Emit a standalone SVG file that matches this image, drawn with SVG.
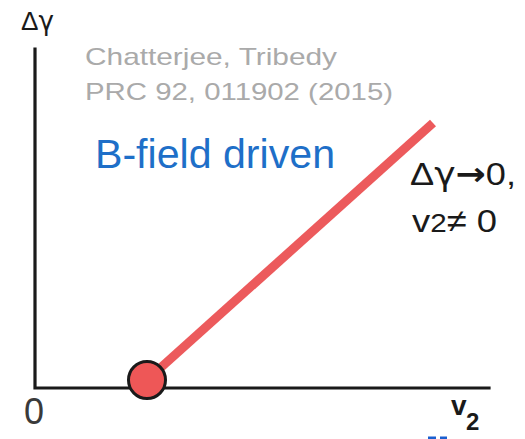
<svg xmlns="http://www.w3.org/2000/svg" width="525" height="439" viewBox="0 0 525 439">
<style>
.ax{stroke:#1a1a1a;stroke-width:3.2;fill:none;stroke-linecap:square}
.lab{font-family:"Liberation Sans",Arial,sans-serif;fill:#1a1a1a}
.ref{font-family:"Liberation Sans",Arial,sans-serif;fill:#aaaaaa;font-size:24px}
.blue{font-family:"Liberation Sans",Arial,sans-serif;fill:#1e6fc8;font-size:40px}
.gam{font-family:"DejaVu Sans",sans-serif}
</style>
<rect width="525" height="439" fill="#ffffff"/>
<g id="axes">
<path class="ax" d="M35,49 L35,388 L489,388"/>
</g>
<g id="labels">
<text class="lab" x="21" y="30" font-size="26" textLength="33" lengthAdjust="spacingAndGlyphs">Δ<tspan class="gam">γ</tspan></text>
<text class="lab" x="24" y="424" font-size="36" style="fill:#3a3a3a">0</text>
<text class="lab" x="451" y="415" font-size="28" font-weight="bold">v</text>
<text class="lab" x="466" y="430" font-size="24" font-weight="bold">2</text>
</g>
<g id="reference">
<text class="ref" x="85" y="65" textLength="252" lengthAdjust="spacingAndGlyphs">Chatterjee, Tribedy</text>
<text class="ref" x="85" y="100" textLength="308" lengthAdjust="spacingAndGlyphs">PRC 92, 011902 (2015)</text>
</g>
<g id="title">
<text class="blue" x="95" y="168" textLength="240" lengthAdjust="spacingAndGlyphs">B-field driven</text>
</g>
<g id="connectors">
<line x1="147" y1="380" x2="433" y2="123" stroke="#ec5a5c" stroke-width="9" stroke-linecap="butt"/>
</g>
<g id="point">
<circle cx="147" cy="380" r="18.5" fill="#ee5757" stroke="#1a1a1a" stroke-width="3"/>
</g>
<g id="annotation">
<text class="lab" x="410" y="185" font-size="32" textLength="106" lengthAdjust="spacingAndGlyphs">Δ<tspan class="gam">γ</tspan><tspan class="gam" font-weight="bold">→</tspan>0,</text>
<text class="lab" x="412" y="232" font-size="32" textLength="85" lengthAdjust="spacingAndGlyphs">v<tspan font-size="26">2</tspan>≠ 0</text>
</g>
<g id="fragment">
<rect x="428" y="436.5" width="8" height="2.5" fill="#1a5fd0"/>
<rect x="440" y="436.5" width="7" height="2.5" fill="#1a5fd0"/>
</g>
</svg>
